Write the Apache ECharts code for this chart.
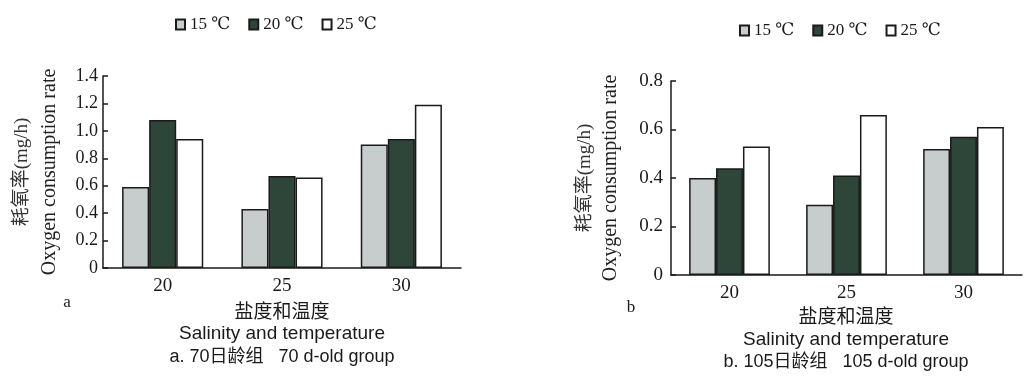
<!DOCTYPE html>
<html>
<head>
<meta charset="utf-8">
<script src="https://cdn.jsdelivr.net/npm/echarts@6/dist/echarts.min.js"></script>
<style>
html,body{margin:0;padding:0;background:#fff;}
#chart{width:1025px;height:382px;}
</style>
</head>
<body>
<div id="chart"></div>
<script>
// ---- data ----
const categories = ['20', '25', '30'];
const seriesNames = ['15 ℃', '20 ℃', '25 ℃'];
// panel a: 70 d-old group
const a15 = [0.59, 0.43, 0.90];
const a20 = [1.08, 0.67, 0.94];
const a25 = [0.94, 0.66, 1.19];
// panel b: 105 d-old group
const b15 = [0.40, 0.29, 0.52];
const b20 = [0.44, 0.41, 0.57];
const b25 = [0.53, 0.66, 0.61];
const yTicksA = { min: 0, max: 1.4, interval: 0.2 };
const yTicksB = { min: 0, max: 0.8, interval: 0.2 };

const serif = '"Liberation Serif", "DejaVu Serif", "Noto Sans CJK SC", serif';
const sans = '"Liberation Sans", Arial, "Noto Sans CJK SC", sans-serif';
const colors = ['#c6cdcc', '#2e463a', '#ffffff'];
const ink = '#1a1a1a';

const chart = echarts.init(document.getElementById('chart'), null, { renderer: 'canvas' });

function yFmt(v) { return v === 0 ? '0' : v.toFixed(1); }

function xAxis(gi) {
  return {
    type: 'category', gridIndex: gi, data: categories,
    axisLine: { lineStyle: { color: ink, width: 1.5 } },
    axisTick: { inside: true, length: 6, lineStyle: { color: ink, width: 1.5 } },
    axisLabel: { color: ink, fontFamily: serif, fontSize: 19, margin: 9 }
  };
}
function yAxis(gi, t, gap, lh, lsize) {
  return {
    type: 'value', gridIndex: gi, min: t.min, max: t.max, interval: t.interval,
    splitLine: { show: false },
    axisLine: { show: true, lineStyle: { color: ink, width: 1.5 } },
    axisTick: { show: true, inside: true, length: 5, lineStyle: { color: ink, width: 1.5 } },
    axisLabel: { color: ink, fontFamily: serif, fontSize: lsize, margin: gi === 0 ? 5 : 8, formatter: yFmt },
    name: '{c|耗氧率(mg/h)}\n{e|Oxygen consumption rate}',
    nameLocation: 'middle', nameRotate: 90, nameGap: gap,
    nameTextStyle: {
      color: '#222', fontFamily: serif, lineHeight: lh,
      rich: {
        c: { fontFamily: serif, fontSize: 19, lineHeight: lh, color: '#333' },
        e: { fontFamily: serif, fontSize: 20, lineHeight: lh, color: '#222' }
      }
    }
  };
}
function bars(name, data, idx, gi, gapCat) {
  return {
    name: name, type: 'bar', data: data, xAxisIndex: gi, yAxisIndex: gi,
    barGap: '0%', barCategoryGap: gapCat,
    itemStyle: { color: colors[idx], borderColor: ink, borderWidth: 1.5 },
    emphasis: { disabled: true }
  };
}
const legendBase = {
  data: seriesNames, icon: 'rect', itemWidth: 9, itemHeight: 10, itemGap: 18,
  textStyle: { color: ink, fontFamily: serif, fontSize: 17 },
  selectedMode: false
};
function txt(x, y, s, size, fam) {
  return { type: 'text', x: x, y: y, style: { text: s, fill: ink, font: size + 'px ' + fam, textAlign: 'center', textVerticalAlign: 'middle' } };
}

chart.setOption({
  backgroundColor: '#ffffff',
  animation: false,
  color: colors,
  legend: [
    Object.assign({ left: 170, top: 11 }, legendBase),
    Object.assign({ left: 734, top: 17 }, legendBase)
  ],
  grid: [
    { left: 103, top: 76, width: 358, height: 192 },
    { left: 671, top: 81, width: 351, height: 194 }
  ],
  xAxis: [xAxis(0), xAxis(1)],
  yAxis: [yAxis(0, yTicksA, 40, 27, 18), yAxis(1, yTicksB, 48, 25, 19)],
  series: [
    bars(seriesNames[0], a15, 0, 0, '32%'),
    bars(seriesNames[1], a20, 1, 0, '32%'),
    bars(seriesNames[2], a25, 2, 0, '32%'),
    bars(seriesNames[0], b15, 0, 1, '31%'),
    bars(seriesNames[1], b20, 1, 1, '31%'),
    bars(seriesNames[2], b25, 2, 1, '31%')
  ],
  graphic: [
    txt(67, 303, 'a', 17, serif),
    txt(282, 313, '盐度和温度', 19, serif),
    txt(282, 334, 'Salinity and temperature', 19, sans),
    txt(282, 357, 'a. 70日龄组   70 d-old group', 18, sans),
    txt(631, 308, 'b', 17, serif),
    txt(846, 318, '盐度和温度', 19, serif),
    txt(846, 340, 'Salinity and temperature', 19, sans),
    txt(846, 362, 'b. 105日龄组   105 d-old group', 18, sans)
  ]
});
</script>
</body>
</html>
